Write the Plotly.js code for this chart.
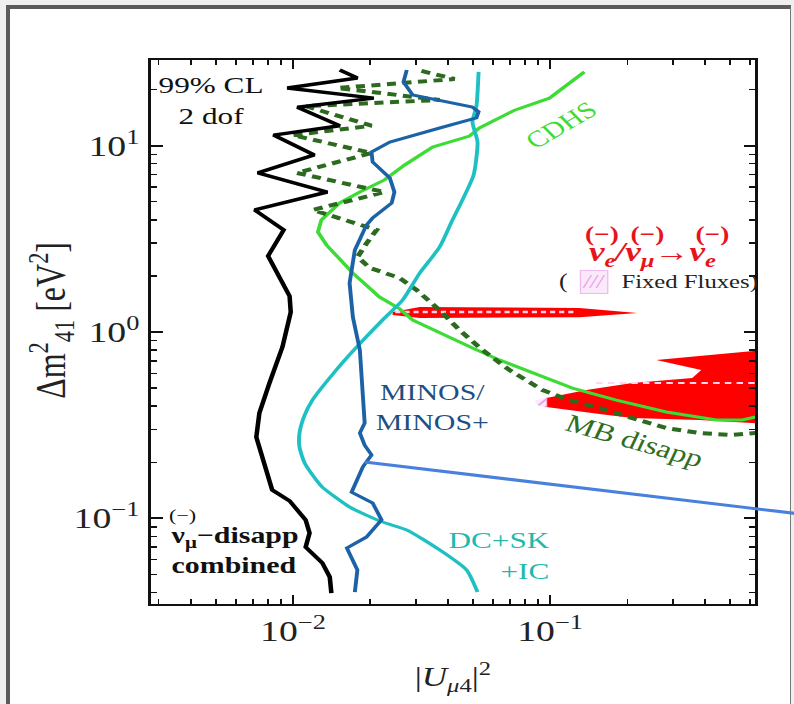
<!DOCTYPE html>
<html>
<head>
<meta charset="utf-8">
<script src="https://cdn.plot.ly/plotly-3.0.1.min.js"></script>
<style>
  html, body { margin: 0; padding: 0; width: 794px; height: 704px; overflow: hidden; background: #efefef; }
  #sheet { position: absolute; left: 6px; top: 5px; width: 780px; height: 720px; background: #fff;
           border-left: 4px solid #5b5b5b; border-top: 4px solid #5b5b5b; border-right: 1px solid #7a7a7a; }
  #plot { position: absolute; left: 0; top: 0; width: 611px; height: 704px; transform-origin: 0 0; }
</style>
</head>
<body>
<div id="sheet"></div>
<div id="plot"></div>
<script>
// ---- exclusion contours, |U_mu4|^2 vs Delta m^2_41 [eV^2] ----
// combined muon-(anti)neutrino disappearance
const combinedX = [0.0152,0.0178,0.0095,0.0206,0.0104,0.0152,0.0084,0.0121,0.0073,0.0136,0.0071,0.0092,0.0080,0.0097,0.0098,0.0091,0.0081,0.0074,0.0072,0.0076,0.0083,0.0097,0.0112,0.0116,0.0112,0.0130,0.0139,0.0141];
const combinedY = [25.5,23.1,20.4,18.0,16.1,12.8,11.4,8.92,7.14,5.64,4.52,3.53,2.56,1.56,1.28,0.831,0.532,0.367,0.273,0.213,0.142,0.124,0.098,0.0834,0.0701,0.0576,0.0484,0.0397];

// MINOS / MINOS+
const minosX = [0.0277,0.0269,0.0292,0.0499,0.0527,0.0517,0.0372,0.0238,0.0202,0.0204,0.0238,0.0248,0.0242,0.0204,0.0193,0.0174,0.0166,0.0171,0.0182,0.0187,0.0190,0.0182,0.0190,0.0202,0.0187,0.0169,0.0204,0.0221,0.0193,0.0162,0.0178,0.0174];
const minosY = [25.5,22.0,18.7,16.1,15.2,14.1,12.45,10.47,9.25,8.18,6.71,5.64,4.93,4.09,3.75,2.75,1.83,1.20,0.80,0.471,0.325,0.287,0.247,0.219,0.189,0.138,0.121,0.098,0.0793,0.0693,0.0528,0.0402];

// DeepCore + Super-K + IceCube
const atmX = [0.0527,0.0517,0.0499,0.0522,0.0504,0.0452,0.0417,0.0372,0.0311,0.0267,0.0223,0.0177,0.0143,0.0119,0.0111,0.0106,0.0106,0.0111,0.0123,0.0130,0.0166,0.0223,0.0277,0.0372,0.0473,0.0522];
const atmY = [24.9,16.3,13.4,10.47,6.96,4.99,3.99,2.86,2.07,1.485,1.16,0.831,0.595,0.431,0.358,0.287,0.241,0.198,0.161,0.147,0.115,0.0955,0.0866,0.0676,0.0528,0.0402];

// CDHS
const cdhsX = [0.1359,0.0994,0.0727,0.0531,0.0486,0.0349,0.0272,0.0227,0.0182,0.0152,0.0129,0.0125,0.0135,0.0171,0.0217,0.0260,0.0292,0.0372,0.0499,0.0635,0.0909,0.1221,0.181,0.283,0.443,0.559,0.63];
const cdhsY = [24.9,18.0,15.5,12.45,11.27,9.84,7.88,6.55,5.64,4.93,3.99,3.44,2.93,2.07,1.54,1.33,1.16,0.988,0.821,0.708,0.588,0.50,0.431,0.372,0.337,0.337,0.35];

// MiniBooNE disappearance
const mbX = [0.0316,0.0425,0.0149,0.0372,0.0112,0.0202,0.00997,0.0202,0.01034,0.0227,0.01193,0.01706,0.02114,0.01934,0.01784,0.01986,0.02597,0.03024,0.0372,0.0444,0.0546,0.0695,0.0934,0.1189,0.1554,0.2088,0.283,0.380,0.511,0.63];
const mbY = [25.2,22.8,20.4,17.6,16.3,12.8,11.4,9.14,7.14,5.64,4.52,3.85,3.53,3.0,2.53,2.21,1.95,1.68,1.31,1.025,0.80,0.625,0.488,0.431,0.391,0.345,0.305,0.287,0.280,0.287];

// nu_e / nu_mu -> nu_e appearance allowed regions
const appLowX = [0.0967,0.1384,0.2088,0.357,0.387,0.2588,0.65,0.65,0.380,0.2088,0.1554,0.0967];
const appLowY = [0.442,0.488,0.532,0.566,0.625,0.708,0.795,0.323,0.337,0.345,0.363,0.396];
const appSliverX = [0.0244,0.0311,0.13,0.2184,0.13,0.0311,0.0244];
const appSliverY = [1.28,1.362,1.346,1.265,1.20,1.189,1.234];

// fixed-flux variant (hatched) and its boundary
const fixedTipX = [0.0875,0.0975,0.0975,0.0895];
const fixedTipY = [0.425,0.452,0.392,0.405];
const fixedEdgeX = [0.151,0.65];
const fixedEdgeY = [0.532,0.532];
const fixedSliverX = [0.025,0.125];
const fixedSliverY = [1.28,1.28];

// axis ticks
const xMajor = [0.01, 0.1];
const xMajorText = ['10<sup>−2</sup>', '10<sup>−1</sup>'];
const xMinor = [0.003,0.004,0.005,0.006,0.007,0.008,0.009,0.02,0.03,0.04,0.05,0.06,0.07,0.08,0.09,0.2,0.3,0.4,0.5,0.6];
const yMajor = [0.1, 1, 10];
const yMajorText = ['10<sup>−1</sup>', '10<sup>0</sup>', '10<sup>1</sup>'];
const yMinor = [0.04,0.05,0.06,0.07,0.08,0.09,0.2,0.3,0.4,0.5,0.6,0.7,0.8,0.9,2,3,4,5,6,7,8,9,20];

const SERIF = 'Liberation Serif, Times New Roman, serif';

const traces = [
  { x: appLowX, y: appLowY, mode: 'lines', fill: 'toself', fillcolor: '#ff0000', line: { width: 0, color: '#ff0000' }, hoverinfo: 'skip' },
  { x: appSliverX, y: appSliverY, mode: 'lines', fill: 'toself', fillcolor: '#ff0000', line: { width: 0, color: '#ff0000' }, hoverinfo: 'skip' },
  { x: fixedTipX, y: fixedTipY, mode: 'lines', fill: 'toself', fillcolor: 'rgba(248,200,246,0.7)',
    fillpattern: { shape: '/', fgcolor: '#e79be5', bgcolor: 'rgba(250,222,250,0.6)', size: 5 }, line: { width: 0 }, hoverinfo: 'skip' },
  { x: fixedEdgeX, y: fixedEdgeY, mode: 'lines', line: { color: '#ffd6f2', width: 2, dash: '5px,4px' }, hoverinfo: 'skip' },
  { x: fixedSliverX, y: fixedSliverY, mode: 'lines', line: { color: '#ffd0ee', width: 2.5, dash: '4px,3px' }, hoverinfo: 'skip' },
  { x: cdhsX, y: cdhsY, mode: 'lines', line: { color: '#3cdc35', width: 3 }, hoverinfo: 'skip' },
  { x: mbX, y: mbY, mode: 'lines', line: { color: '#2c6a1f', width: 4, dash: '7px,5px' }, hoverinfo: 'skip' },
  { x: atmX, y: atmY, mode: 'lines', line: { color: '#1fc0c4', width: 3, shape: 'spline', smoothing: 0.6 }, hoverinfo: 'skip' },
  { x: minosX, y: minosY, mode: 'lines', line: { color: '#1c62a6', width: 3 }, hoverinfo: 'skip' },
  { x: combinedX, y: combinedY, mode: 'lines', line: { color: '#000000', width: 3.5 }, hoverinfo: 'skip' }
];

const axisBase = {
  type: 'log', ticks: 'inside', ticklen: 9, tickwidth: 1.6, tickcolor: '#111',
  showline: true, linewidth: 2, linecolor: '#111', mirror: 'allticks',
  showgrid: false, zeroline: false,
  tickfont: { family: SERIF, size: 29, color: '#222' }
};

function ann(text, x, y, o) {
  return Object.assign({ text: text, x: x, y: y, xref: 'paper', yref: 'paper', showarrow: false,
    xanchor: 'center', yanchor: 'middle',
    font: { family: SERIF, size: 24, color: '#111' } }, o || {});
}

const annotations = [
  ann('99% CL<br>2 dof', 0.099, 0.925, { font: { family: SERIF, size: 24, color: '#111' } }),
  ann('CDHS', 0.678, 0.88, { textangle: -37, font: { family: SERIF, size: 23, color: '#3cdc35' } }),
  ann('MINOS/<br>MINOS+', 0.466, 0.362, { font: { family: SERIF, size: 23, color: '#1d4f82' } }),
  ann('DC+SK<br>+IC', 0.664, 0.09, { xanchor: 'right', align: 'right', font: { family: SERIF, size: 24, color: '#1fb9ad' } }),
  ann('MB disapp', 0.80, 0.30, { textangle: 20, font: { family: SERIF, size: 25, color: '#2f6e22' } }),
  ann('(−)', 0.026, 0.162, { xanchor: 'left', font: { family: SERIF, size: 17, color: '#111' } }),
  ann('<b>ν<sub>μ</sub>−disapp<br>combined</b>', 0.028, 0.099, { xanchor: 'left', align: 'left', font: { family: SERIF, size: 23, color: '#111' } }),
  ann('<b><i>ν<sub>e</sub>/ν<sub>μ</sub>→ν<sub>e</sub></i></b>', 0.72, 0.643, { xanchor: 'left', font: { family: SERIF, size: 27, color: '#e8131b' } }),
  ann('<b>(−)</b>', 0.7465, 0.681, { font: { family: SERIF, size: 21, color: '#e8131b' } }),
  ann('<b>(−)</b>', 0.8225, 0.681, { font: { family: SERIF, size: 21, color: '#e8131b' } }),
  ann('<b>(−)</b>', 0.928, 0.681, { font: { family: SERIF, size: 21, color: '#e8131b' } }),
  ann('(', 0.683, 0.592, { font: { family: SERIF, size: 20, color: '#222' } }),
  ann('<i>///</i>', 0.733, 0.592, { font: { family: SERIF, size: 18, color: '#e39de1' }, bgcolor: 'rgba(251,226,250,0.8)',
    bordercolor: '#efb8ee', borderwidth: 1, borderpad: 1 }),
  ann('Fixed Fluxes)', 0.775, 0.592, { xanchor: 'left', font: { family: SERIF, size: 19, color: '#222' } }),
  ann('|<i>U</i><sub><i>μ</i>4</sub>|<sup>2</sup>', 0.5, -0.134, { font: { family: SERIF, size: 27, color: '#222' } }),
  ann('Δm<sup>2</sup><sub>41</sub> [eV<sup>2</sup>]', -0.166, 0.522, { textangle: -90, font: { family: SERIF, size: 32, color: '#222' } })
];

const layout = {
  width: 611, height: 704,
  margin: { l: 116, r: 30, t: 60, b: 100 },
  paper_bgcolor: 'rgba(0,0,0,0)', plot_bgcolor: '#ffffff',
  showlegend: false,
  xaxis: Object.assign({}, axisBase, {
    range: [-2.553, -0.202], tickvals: xMajor, ticktext: xMajorText,
    minor: { tickvals: xMinor, ticks: 'inside', ticklen: 5, tickwidth: 1.4, tickcolor: '#111' }
  }),
  yaxis: Object.assign({}, axisBase, {
    range: [-1.46, 1.46], tickvals: yMajor, ticktext: yMajorText, ticklabelstandoff: 1,
    minor: { tickvals: yMinor, ticks: 'inside', ticklen: 5, tickwidth: 1.4, tickcolor: '#111' }
  }),
  annotations: annotations,
  shapes: [
    { type: 'line', xref: 'paper', yref: 'paper', x0: 0.3537, y0: 0.261, x1: 1.07, y1: 0.166,
      line: { color: '#4a80dd', width: 3 } }
  ]
};

// lay the figure out at its natural width, then widen it horizontally like the slide it sits on
Plotly.newPlot('plot', traces, layout, { displayModeBar: false, staticPlot: true }).then(function (gd) {
  gd.style.transform = 'scaleX(1.3)';
});
</script>
</body>
</html>
